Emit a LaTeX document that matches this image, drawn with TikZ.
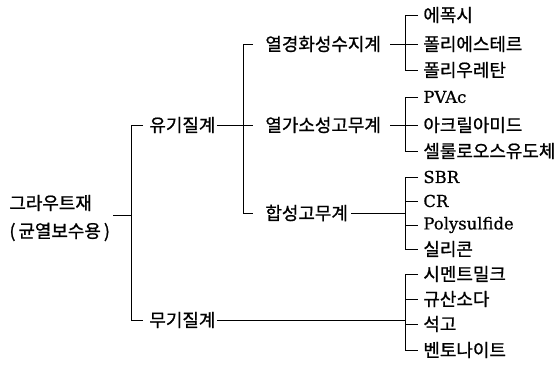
\documentclass[tikz,border=0pt]{standalone}
\usepackage{fontspec}
\setmainfont[FakeBold=0.7]{DejaVu Serif}
\newfontfamily\kr[FakeBold=1]{Noto Sans CJK KR}
\begin{document}
\begin{tikzpicture}[x=1bp,y=-1bp,line width=0.8bp,
  lab/.style={inner sep=0pt,anchor=west,font=\kr\fontsize{18}{28}\selectfont},
  lat/.style={inner sep=0pt,anchor=west,font=\fontsize{16.5}{20}\selectfont}]
\useasboundingbox (0,0) rectangle (558,365);
% junction columns
\coordinate (v1) at (131,0);
\coordinate (v2) at (243,0);
\coordinate (v3) at (405,0);
% root
\node[lab,align=left] (root) at (9,218) {그라우트재\\(\,균열보수용\,)};
% level 1
\node[lab] (ug) at (149,125) {유기질계};
\node[lab] (mu) at (149,320) {무기질계};
% level 2
\node[lab] (ga) at (265,44) {열경화성수지계};
\node[lab] (gb) at (265,125) {열가소성고무계};
\node[lab] (gc) at (265,213) {합성고무계};
% leaves
\node[lab] (a1) at (423,15) {에폭시};
\node[lab] (a2) at (423,44) {폴리에스테르};
\node[lab] (a3) at (423,70) {폴리우레탄};
\node[lat] (b1) at (423,97) {PVAc};
\node[lab] (b2) at (423,125) {아크릴아미드};
\node[lab] (b3) at (423,151) {셀룰로오스유도체};
\node[lat] (c1) at (423,177) {SBR};
\node[lat] (c2) at (423,201) {CR};
\node[lat] (c3) at (423,225) {Polysulfide};
\node[lab] (c4) at (423,249) {실리콘};
\node[lab] (d1) at (423,274) {시멘트밀크};
\node[lab] (d2) at (423,299) {규산소다};
\node[lab] (d3) at (423,324) {석고};
\node[lab] (d4) at (423,350) {벤토나이트};
% root connector
\coordinate (rj) at (root.east |- 0,215);
\draw ([xshift=3bp]rj) -- (rj -| v1);
\draw ([xshift=-6bp]ug.west) -- (v1 |- ug.west) -- (v1 |- mu.west) -- ([xshift=-6bp]mu.west);
% level 1 to level 2
\draw ([xshift=1bp]ug.east) -- (v2 |- ug.east);
\draw ([xshift=-12bp]ga.west) -- (v2 |- ga.west) -- (v2 |- gc.west) -- ([xshift=-12bp]gc.west);
\draw (v2 |- gb.west) -- ([xshift=-12bp]gb.west);
\draw ([xshift=1bp]mu.east) -- (v3 |- mu.east);
% level 2 to leaves
\draw ([xshift=9bp]ga.east) -- (v3 |- ga.east);
\draw ([xshift=9bp]gb.east) -- (v3 |- gb.east);
\draw ([xshift=3bp]gc.east) -- (v3 |- gc.east);
% leaf groups
\draw ([xshift=-5bp]a1.west) -- (v3 |- a1.west) -- (v3 |- a3.west) -- ([xshift=-5bp]a3.west);
\draw (v3 |- a2.west) -- ([xshift=-5bp]a2.west);
\draw ([xshift=-5bp]b1.west) -- (v3 |- b1.west) -- (v3 |- b3.west) -- ([xshift=-5bp]b3.west);
\draw (v3 |- b2.west) -- ([xshift=-5bp]b2.west);
\draw ([xshift=-5bp]c1.west) -- (v3 |- c1.west) -- (v3 |- c4.west) -- ([xshift=-5bp]c4.west);
\draw (v3 |- c2.west) -- ([xshift=-5bp]c2.west);
\draw (v3 |- c3.west) -- ([xshift=-5bp]c3.west);
\draw ([xshift=-5bp]d1.west) -- (v3 |- d1.west) -- (v3 |- d4.west) -- ([xshift=-5bp]d4.west);
\draw (v3 |- d2.west) -- ([xshift=-5bp]d2.west);
\draw (v3 |- d3.west) -- ([xshift=-5bp]d3.west);
\end{tikzpicture}
\end{document}
